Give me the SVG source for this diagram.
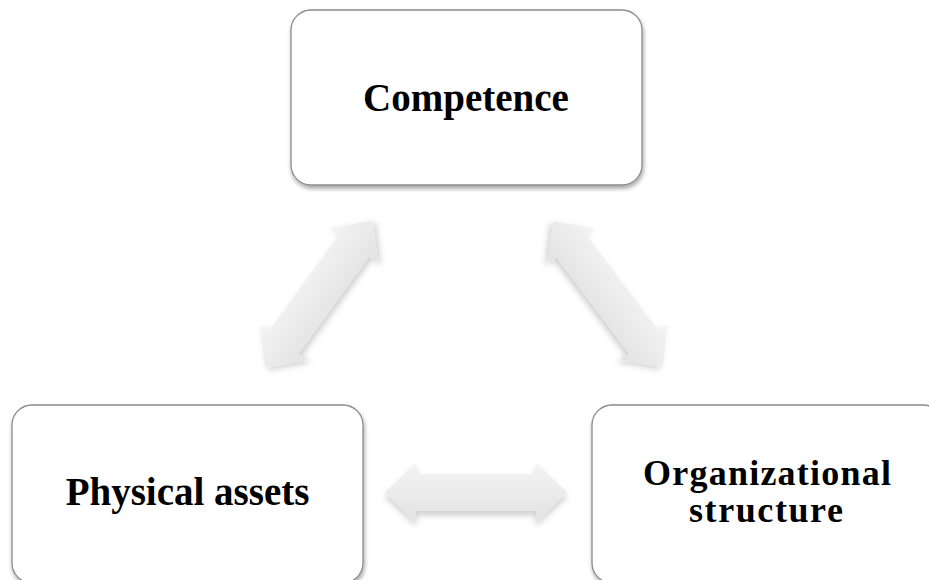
<svg xmlns="http://www.w3.org/2000/svg" width="929" height="580" viewBox="0 0 929 580">
<style>
.box{fill:#fff;stroke:#8a8a8a;stroke-width:1.3;filter:url(#bshadow)}
.lbl{font-family:"Liberation Serif","Times New Roman",serif;font-weight:bold;font-size:39px;fill:#000;text-anchor:middle}
.lbl2{font-size:36px}
.arr{fill:url(#agrad);filter:url(#ashadow)}
</style>
<defs>
<filter id="bshadow" x="-10%" y="-10%" width="120%" height="130%">
<feDropShadow dx="1" dy="3" stdDeviation="2" flood-color="#000" flood-opacity="0.35"/>
</filter>
<filter id="ashadow" x="-20%" y="-30%" width="140%" height="170%">
<feDropShadow dx="0" dy="4" stdDeviation="3" flood-color="#000" flood-opacity="0.2"/>
</filter>
<linearGradient id="agrad" x1="0" y1="0" x2="0" y2="1">
<stop offset="0" stop-color="#f4f4f4"/>
<stop offset="1" stop-color="#e2e2e2"/>
</linearGradient>
<path id="dbl" d="M -91 0 L -60 -29.5 L -60 -18.5 L 60 -18.5 L 60 -29.5 L 91 0 L 60 29.5 L 60 18.5 L -60 18.5 L -60 29.5 Z"/>
</defs>
<rect width="929" height="580" fill="#fff"/>
<g id="connectors">
<use href="#dbl" class="arr" transform="translate(318.5 294) rotate(-54)"/>
<use href="#dbl" class="arr" transform="translate(608 294) rotate(53)"/>
<use href="#dbl" class="arr" transform="translate(476 492.5)"/>
</g>
<g id="competence">
<rect class="box" x="291" y="10" width="351" height="175" rx="20"/>
<text class="lbl" x="466" y="111">Competence</text>
</g>
<g id="physical-assets">
<rect class="box" x="12" y="405" width="351" height="178" rx="20"/>
<text class="lbl" x="187.5" y="505">Physical assets</text>
</g>
<g id="organizational-structure">
<rect class="box" x="592" y="405" width="351" height="178" rx="20"/>
<text class="lbl lbl2" x="767" y="485" textLength="248" lengthAdjust="spacing">Organizational</text>
<text class="lbl lbl2" x="766" y="522" textLength="154" lengthAdjust="spacing">structure</text>
</g>
</svg>
